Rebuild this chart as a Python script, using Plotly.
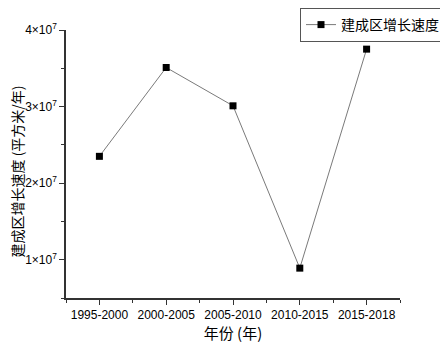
import plotly.graph_objects as go

categories = ["1995-2000", "2000-2005", "2005-2010", "2010-2015", "2015-2018"]
values = [2.35e7, 3.51e7, 3.01e7, 0.89e7, 3.75e7]
ytick_vals = [1e7, 2e7, 3e7, 4e7]
ytick_text = ["1×10<sup>7</sup>", "2×10<sup>7</sup>", "3×10<sup>7</sup>", "4×10<sup>7</sup>"]
y_title = "建成区增长速度 (平方米/年)"
x_title = "年份 (年)"

xs = list(range(len(categories)))

fig = go.Figure()
fig.add_trace(go.Scatter(
    x=xs, y=values, mode="lines+markers", name="建成区增长速度",
    line=dict(color="#7a7a7a", width=1),
    marker=dict(symbol="square", color="black", size=7),
))

# the page body has an 8px default margin, so the figure is 440x335
W, H = 440, 335
L, R, T, B = 58, 48, 22, 45
font_main = "Liberation Sans, Arial, Noto Sans CJK SC, sans-serif"
cjk = "Noto Sans CJK SC, sans-serif"
fig.update_layout(
    width=W, height=H,
    margin=dict(l=L, r=R, t=T, b=B, autoexpand=False),
    paper_bgcolor="white", plot_bgcolor="white",
    font=dict(family=font_main, color="black", size=12),
    showlegend=True,
    legend=dict(x=(445 - 8) / W, y=1.0, xref="container", yref="container", xanchor="right", yanchor="top",
                bordercolor="#555", borderwidth=1, bgcolor="white",
                font=dict(size=14, family=cjk),
                itemwidth=30, tracegroupgap=0),
    xaxis=dict(
        range=[-0.5, 4.5], tickvals=xs, ticktext=categories,
        showline=True, linecolor="#333", linewidth=1.5, mirror=False,
        ticks="outside", ticklen=5, tickwidth=1.2, tickcolor="#333",
        showgrid=False, zeroline=False,
        minor=dict(dtick=0.5, tick0=-0.5, ticks="outside", ticklen=3, tickcolor="#333", tickwidth=1, showgrid=False),
        title=dict(text=x_title, font=dict(size=15, family=cjk), standoff=4),
        tickfont=dict(size=12),
    ),
    yaxis=dict(
        range=[5e6, 4e7], tickvals=ytick_vals, ticktext=ytick_text,
        showline=True, linecolor="#333", linewidth=1.5,
        ticks="outside", ticklen=5, tickwidth=1.2, tickcolor="#333",
        showgrid=False, zeroline=False,
        minor=dict(dtick=5e6, tick0=5e6, ticks="outside", ticklen=3, tickcolor="#333", tickwidth=1, showgrid=False),
        tickfont=dict(size=12),
    ),
    annotations=[dict(
        text=y_title, textangle=-90, showarrow=False,
        xref="paper", yref="paper",
        x=(8.5 - L) / (W - L - R), y=(H - B - 164) / (H - T - B),
        xanchor="center", yanchor="middle",
        font=dict(size=14, family=cjk, color="black"),
    )],
)

fig.write_html("out.html")
